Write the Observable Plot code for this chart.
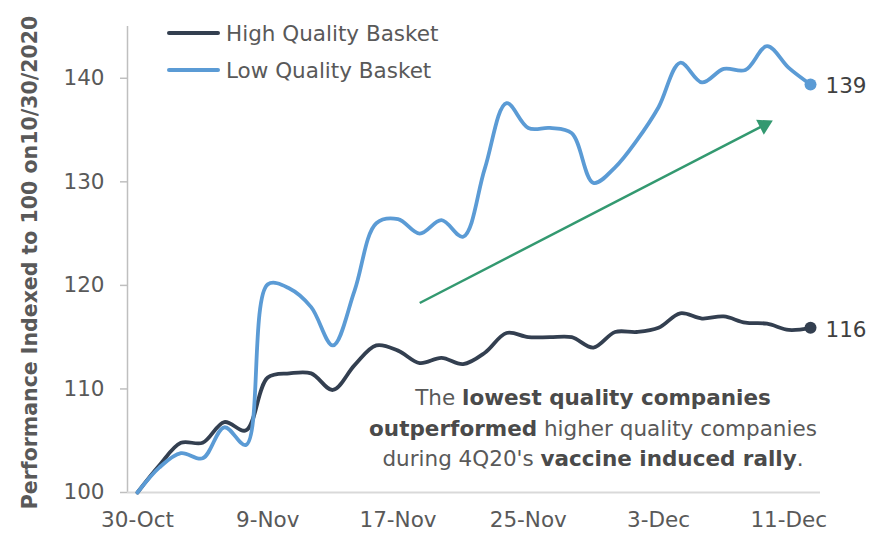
<!DOCTYPE html>
<html>
<head>
<meta charset="utf-8">
<script src="https://cdn.jsdelivr.net/npm/d3@7"></script>
<script src="https://cdn.jsdelivr.net/npm/@observablehq/plot@0.6"></script>
<style>
  body { margin: 0; background: #fff; }
  #wrap { position: relative; width: 887px; height: 534px; font-family: "DejaVu Sans", sans-serif; }
  #wrap svg { position: absolute; left: 0; top: 0; }
  .leg { position: absolute; left: 167px; display: flex; align-items: center; height: 26px; font-size: 21.5px; color: #595959; }
  .leg .sw { width: 53px; height: 4px; border-radius: 2px; margin-right: 6px; }
  #note { position: absolute; left: 343px; top: 383px; width: 500px; text-align: center; font-size: 21.5px; line-height: 30.5px; color: #595959; }
  #note b { color: #4a4a4a; }
</style>
</head>
<body>
<div id="wrap"></div>
<script>
// ---- data ----
const dates = ["30-Oct","2-Nov","3-Nov","4-Nov","5-Nov","6-Nov","9-Nov","10-Nov","11-Nov","12-Nov","13-Nov",
  "16-Nov","17-Nov","18-Nov","19-Nov","20-Nov","23-Nov","24-Nov","25-Nov","26-Nov","27-Nov",
  "30-Nov","1-Dec","2-Dec","3-Dec","4-Dec","7-Dec","8-Dec","9-Dec","10-Dec","11-Dec","14-Dec"];
const highQuality = [100, 102.6, 104.8, 104.8, 106.8, 106.0, 111.1, 111.5, 111.5, 109.9, 112.3,
  114.2, 113.7, 112.5, 113.0, 112.4, 113.5, 115.4, 115.0, 115.0, 115.0,
  114.0, 115.5, 115.5, 115.9, 117.3, 116.8, 117.0, 116.4, 116.3, 115.7, 115.9];
const lowQuality = [100, 102.4, 103.8, 103.3, 106.3, 104.6, 120.1, 119.7, 117.9, 114.2, 119.5,
  126.0, 126.4, 125.0, 126.3, 124.7, 131.3, 137.6, 135.2, 135.2, 134.7,
  129.9, 131.4, 134.0, 137.2, 141.5, 139.6, 140.9, 140.8, 143.1, 141.0, 139.4];
const seriesNames = ["High Quality Basket", "Low Quality Basket"];
const seriesColors = ["#333F50", "#5B9BD5"];
const yTicks = [100, 110, 120, 130, 140];
const xTickIdx = [0, 6, 12, 18, 24, 30];
const yTitle = "Performance Indexed to 100 on10/30/2020";
const trendArrow = [{x1: 13.0, y1: 118.3, x2: 29.25, y2: 135.9}];

// ---- layout ----
const width = 887, height = 534;
const marginLeft = 127, marginRight = 67, marginTop = 26, marginBottom = 42;
const xDomain = [-0.46, dates.length - 1 + 0.46];
const yDomain = [100, 145];
const font = "DejaVu Sans";

const rows = [];
seriesNames.forEach((s, k) => {
  const vals = k === 0 ? highQuality : lowQuality;
  vals.forEach((v, i) => rows.push({series: s, i, date: dates[i], value: v}));
});
const lastPts = seriesNames.map((s, k) => {
  const vals = k === 0 ? highQuality : lowQuality;
  return {series: s, i: vals.length - 1, value: vals[vals.length - 1]};
});

// arrow geometry (head as a rotated triangle)
const sx = d3.scaleLinear(xDomain, [marginLeft, width - marginRight]);
const sy = d3.scaleLinear(yDomain, [height - marginBottom, marginTop]);
const a = trendArrow[0];
const px1 = sx(a.x1), py1 = sy(a.y1), px2 = sx(a.x2), py2 = sy(a.y2);
const len = Math.hypot(px2 - px1, py2 - py1);
const ux = (px2 - px1) / len, uy = (py2 - py1) / len;
const shaft = [{x1: a.x1, y1: a.y1, x2: sx.invert(px2 - 11 * ux), y2: sy.invert(py2 - 11 * uy)}];
const head = [{x: sx.invert(px2 - 9.3 * ux), y: sy.invert(py2 - 9.3 * uy)}];
const headRot = Math.atan2(uy, ux) * 180 / Math.PI + 90;

// title font size fitted to reference length
const ctx = document.createElement("canvas").getContext("2d");
ctx.font = `bold 20px "${font}"`;
const titleSize = 20 * 494 / ctx.measureText(yTitle).width;

const chart = Plot.plot({
  width, height, marginLeft, marginRight, marginTop, marginBottom,
  style: {fontFamily: font, background: "white", overflow: "visible"},
  x: {domain: xDomain, axis: null},
  y: {domain: yDomain, axis: null},
  color: {domain: seriesNames, range: seriesColors},
  marks: [
    Plot.ruleX([xDomain[0]], {stroke: "#bfbfbf", strokeWidth: 1.5}),
    Plot.ruleY([100], {stroke: "#d9d9d9", strokeWidth: 2}),
    Plot.axisY({ticks: yTicks, tickSize: 7, tickPadding: 16, fontSize: 21.5, stroke: "#bfbfbf", fill: "#595959", strokeWidth: 1.5, anchor: "left"}),
    Plot.axisX({ticks: xTickIdx, tickFormat: i => dates[i], tickSize: 0, tickPadding: 19, fontSize: 21.5, fill: "#595959", anchor: "bottom"}),
    Plot.text([yTitle], {frameAnchor: "left", rotate: -90, dx: -97, dy: 3, fontWeight: "bold", fontSize: titleSize, fill: "#595959", textAnchor: "middle"}),
    Plot.link(shaft, {x1: "x1", y1: "y1", x2: "x2", y2: "y2", stroke: "#339970", strokeWidth: 2.5}),
    Plot.dot(head, {x: "x", y: "y", symbol: "triangle", r: 6.2, fill: "#339970", stroke: "none", rotate: headRot}),
    Plot.line(rows, {x: "i", y: "value", stroke: "series", z: "series", strokeWidth: 3.8, curve: "catmull-rom"}),
    Plot.dot(lastPts, {x: "i", y: "value", fill: "series", r: 6}),
    Plot.text(lastPts, {x: "i", y: "value", text: d => Math.round(d.value), dx: 15, dy: 2, textAnchor: "start", fontSize: 21.5, fill: "#404040"})
  ]
});

const wrap = document.getElementById("wrap");
wrap.appendChild(chart);

// legend
seriesNames.forEach((s, k) => {
  const row = document.createElement("div");
  row.className = "leg";
  row.style.top = (k === 0 ? 20 : 57) + "px";
  row.innerHTML = `<div class="sw" style="background:${seriesColors[k]}"></div><span>${s}</span>`;
  wrap.appendChild(row);
});

// annotation
const note = document.createElement("div");
note.id = "note";
note.innerHTML = 'The <b>lowest quality companies</b><br><b>outperformed</b> higher quality companies<br>during 4Q20\'s <b>vaccine induced rally</b>.';
wrap.appendChild(note);
</script>
</body>
</html>
